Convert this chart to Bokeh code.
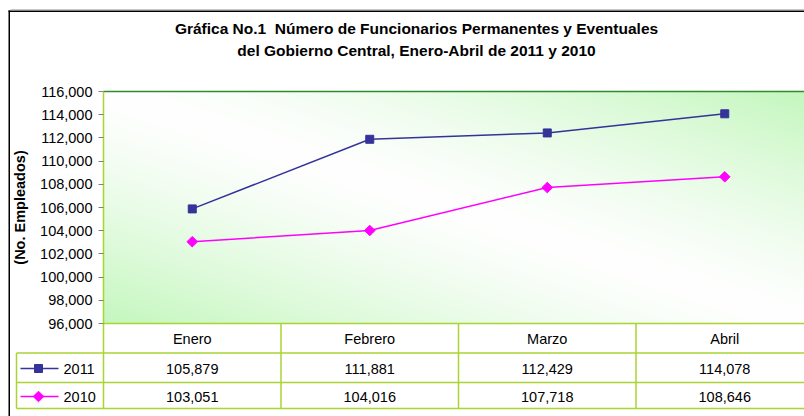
import numpy as np
from bokeh.plotting import figure
from bokeh.models import Range1d, FixedTicker, NumeralTickFormatter, ColumnDataSource
from bokeh.core.properties import value
from bokeh.embed import file_html
from bokeh.resources import INLINE

# ---------------- data ----------------
months = ["Enero", "Febrero", "Marzo", "Abril"]
series_2011 = [105879, 111881, 112429, 114078]
series_2010 = [103051, 104016, 107718, 108646]
series_names = ["2011", "2010"]
y_ticks = list(range(96000, 116001, 2000))
title_lines = ["Gráfica No.1\u00a0 Número de Funcionarios Permanentes y Eventuales",
               "del Gobierno Central, Enero-Abril de 2011 y 2010"]
y_label = "(No. Empleados)"

# ---------------- layout / style ----------------
FONT = "Liberation Sans"
GRID = "#a9d433"
C2011, C2010 = "#333399", "#ff00ff"
W, H = 804, 416
AX_X = 103                        # page x of the value axis
COL = 177.5                       # px per category
Y0, Y1 = 96000, 116000
PX_PER_UNIT = 11.6 / 1000.0
Y0_PX = 323                       # page y of 96000
ROW_Y = [368, 396]                # page y of the table rows

x_plot_lo = -0.5
x_lo = x_plot_lo - AX_X / COL
x_hi = x_plot_lo + (W - AX_X) / COL
y_top = Y0 + Y0_PX / PX_PER_UNIT
y_bot = Y0 - (H - Y0_PX) / PX_PER_UNIT

p = figure(width=W, height=H, x_range=Range1d(x_lo, x_hi), y_range=Range1d(y_bot, y_top),
           output_backend="svg", toolbar_location=None, title=None,
           min_border_left=0, min_border_right=0, min_border_top=0, min_border_bottom=0)
p.outline_line_color = None
p.xgrid.visible = False
p.ygrid.visible = False
p.background_fill_color = "white"
p.border_fill_color = "white"
# page-pixel ranges for decorations (title, table, legend, borders)
p.extra_x_ranges = {"px": Range1d(0, W)}
p.extra_y_ranges = {"px": Range1d(H, 0)}

# ---------------- plot-area gradient ----------------
gh, gw = 232, 701
fx = np.linspace(0, 1, gw)[None, :]
fy = np.linspace(0, 1, gh)[:, None]          # 0 at bottom row
s = (fx + fy) / 2.0
t = np.clip(np.abs(2 * s - 1), 0, 1) ** 1.3
green = np.array([196, 247, 190], dtype=float)
rgb = 255.0 * (1 - t[..., None]) + green * t[..., None]
img = np.empty((gh, gw), dtype=np.uint32)
view = img.view(dtype=np.uint8).reshape((gh, gw, 4))
view[..., :3] = rgb.astype(np.uint8)
view[..., 3] = 255
p.image_rgba(image=[img], x=x_plot_lo, y=Y0, dw=x_hi - x_plot_lo, dh=Y1 - Y0)
p.segment(x0=[x_plot_lo], x1=[x_hi], y0=[Y1], y1=[Y1], line_color="#2e8b2e", line_width=1.3)

# ---------------- series ----------------
src = ColumnDataSource(dict(x=list(range(len(months))), a=series_2011, b=series_2010))
p.line("x", "a", source=src, line_color=C2011, line_width=1.5)
p.scatter("x", "a", source=src, marker="square", size=8, color=C2011)
p.line("x", "b", source=src, line_color=C2010, line_width=1.5)
p.scatter("x", "b", source=src, marker="square", angle=np.pi / 4, size=7.5, color=C2010)

# ---------------- axes ----------------
yax = p.yaxis[0]
yax.fixed_location = x_plot_lo
yax.ticker = FixedTicker(ticks=y_ticks)
yax.formatter = NumeralTickFormatter(format="0,0")
yax.bounds = (Y0, Y1)
yax.axis_line_color = GRID
yax.axis_line_width = 1.5
yax.major_tick_line_color = "#808080"
yax.major_tick_out = 5
yax.major_tick_in = 0
yax.minor_tick_line_color = None
yax.major_label_standoff = 6
yax.major_label_text_font = FONT
yax.major_label_text_font_size = "14.5px"
yax.major_label_text_color = "black"
yax.axis_label = y_label
yax.axis_label_text_font = FONT
yax.axis_label_text_font_style = "bold"
yax.axis_label_text_font_size = "14.5px"
yax.axis_label_text_color = "black"
yax.axis_label_standoff = 9

xax = p.xaxis[0]
xax.fixed_location = Y0
xax.bounds = (x_plot_lo, x_hi)
xax.ticker = FixedTicker(ticks=list(range(len(months))))
xax.major_label_overrides = {i: m for i, m in enumerate(months)}
xax.axis_line_color = GRID
xax.axis_line_width = 1.5
xax.major_tick_line_color = None
xax.minor_tick_line_color = None
xax.major_tick_out = 0
xax.major_tick_in = 0
xax.major_label_standoff = 7
xax.major_label_text_font = FONT
xax.major_label_text_font_size = "14.5px"
xax.major_label_text_color = "black"

# ---------------- data table ----------------
vals = series_2011 + series_2010
tsrc = ColumnDataSource(dict(
    x=list(range(len(months))) * 2,
    y=[ROW_Y[0]] * len(months) + [ROW_Y[1]] * len(months),
    t=[f"{v:,}" for v in vals]))
p.text("x", "y", text="t", source=tsrc, y_range_name="px", text_align="center",
       text_baseline="middle", text_font=value(FONT), text_font_size="14.5px", text_color="black")

# column separators (category boundaries) and the left edge below the axis
p.segment(x0=[x_plot_lo, 0.5, 1.5, 2.5], x1=[x_plot_lo, 0.5, 1.5, 2.5],
          y0=[Y0_PX] * 4, y1=[408] * 4,
          y_range_name="px", line_color=GRID, line_width=1.5)
p.segment(x0=[16, 16, 16, 16], x1=[W, W, W, 16], y0=[352.5, 382, 408, 352.5],
          y1=[352.5, 382, 408, 408], x_range_name="px", y_range_name="px",
          line_color=GRID, line_width=1.5)

# legend keys inside the table
p.segment(x0=[20, 20], x1=[58, 58], y0=ROW_Y, y1=ROW_Y, x_range_name="px", y_range_name="px",
          line_color=[C2011, C2010], line_width=1.5)
p.scatter(x=[38], y=[ROW_Y[0]], marker="square", size=8, color=C2011,
          x_range_name="px", y_range_name="px")
p.scatter(x=[38], y=[ROW_Y[1]], marker="square", angle=np.pi / 4, size=7.5, color=C2010,
          x_range_name="px", y_range_name="px")
p.text(x=[63, 63], y=ROW_Y, text=series_names, x_range_name="px", y_range_name="px",
       text_align="left", text_baseline="middle", text_font=value(FONT),
       text_font_size="14.5px", text_color="black")

# chart border (left & top)
p.segment(x0=[8.75, 8], x1=[8.75, W], y0=[10, 10.75], y1=[H, 10.75],
          x_range_name="px", y_range_name="px", line_color="black", line_width=1.5)
p.segment(x0=[10], x1=[W], y0=[9], y1=[9], x_range_name="px", y_range_name="px",
          line_color="#c8c8c8", line_width=1)

# ---------------- title ----------------
p.text(x=[416, 416], y=[28, 50], text=title_lines, x_range_name="px", y_range_name="px",
       text_align="center", text_baseline="middle", text_font=value(FONT),
       text_font_style="bold", text_font_size="15.5px", text_color="black")

open("out.html", "w").write(file_html(p, INLINE))
